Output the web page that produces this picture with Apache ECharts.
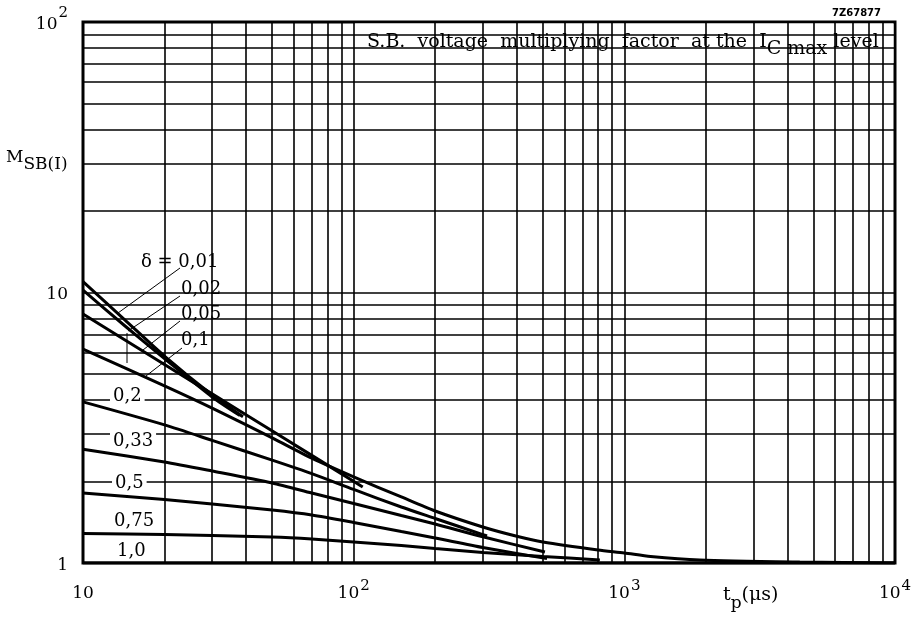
<!DOCTYPE html>
<html><head><meta charset="utf-8">
<script src="https://cdn.jsdelivr.net/npm/echarts@6/dist/echarts.min.js"></script>
<style>html,body{margin:0;padding:0;background:#fff}#c{width:918px;height:618px}</style>
</head><body><div id="c"></div>
<script>
// ---- data: [tp (µs), M_SB(I)] ----
const deltaLabels = ['0,01','0,02','0,05','0,1','0,2','0,33','0,5','0,75','1,0'];
const d001 = [[10,10.96],[14.3,7.91],[20,5.82],[30,4.18],[39,3.47]];
const d002 = [[10,10.2],[14.3,7.52],[20,5.70],[30,4.11],[38,3.51]];
const d005 = [[10,8.33],[20,5.42],[40,3.53],[70,2.50],[108,1.91]];
const d01  = [[10,6.18],[20,4.52],[30,3.74],[50,2.90],[70,2.44],[100,2.08],[150,1.754],[200,1.557],[300,1.359],[404,1.253],[500,1.196],[800,1.117],[1000,1.089],[1250,1.057],[1900,1.026],[4450,1.0085],[10000,1.0]];
const d02  = [[10,3.94],[20,3.24],[30,2.84],[50,2.40],[70,2.14],[100,1.87],[150,1.611],[200,1.461],[300,1.274],[311,1.258]];
const d033 = [[10,2.633],[20,2.363],[30,2.188],[50,1.976],[70,1.815],[100,1.660],[150,1.498],[200,1.394],[300,1.250],[509,1.098]];
const d05  = [[10,1.815],[20,1.717],[30,1.653],[50,1.570],[70,1.505],[100,1.412],[150,1.307],[200,1.237],[300,1.141],[518,1.038]];
const d075 = [[10,1.285],[20,1.274],[30,1.264],[50,1.248],[70,1.227],[100,1.196],[150,1.161],[200,1.131],[300,1.094],[500,1.057],[812,1.026]];
const d10  = [[10,1],[10000,1]];
const curves = [d001,d002,d005,d01,d02,d033,d05,d075,d10];
const xMajor = [100,1000];
const yMajor = [10];
const xMinor = [20,30,40,50,60,70,80,90,200,300,400,500,600,700,800,900,2000,3000,4000,5000,6000,7000,8000,9000];
const yMinor = [2,3,4,5,6,7,8,9,20,30,40,50,60,70,80,90];

const SERIF = '"DejaVu Serif", serif';
const chart = echarts.init(document.getElementById('c'), null, {renderer:'canvas'});
const gridLine = {color:'#000', width:1.6, type:'solid'};

const series = curves.map((d,i)=>({
  type:'line', name:deltaLabels[i], data:d, showSymbol:false, symbol:'none',
  smooth:0.25, z:4, silent:true,
  lineStyle:{color:'#000', width:3}
}));
// carrier series for the grid lines
series.push({
  type:'line', data:[], z:1, silent:true, symbol:'none',
  markLine:{silent:true, symbol:['none','none'], label:{show:false}, lineStyle:gridLine,
    emphasis:{disabled:true},
    data: xMajor.concat(xMinor).map(v=>({xAxis:v})).concat(yMajor.concat(yMinor).map(v=>({yAxis:v})))}
});

function supFmt(v){
  const e = Math.round(Math.log10(v));
  if (v===1) return '{b|1}';
  if (e===1) return '{b|10}';
  return '{b|10}{s|'+e+'}';
}

const txt = (x,y,text,rich,extra)=>Object.assign({type:'text', z:10, silent:true,
  style:Object.assign({x:x,y:y,text:text,rich:rich,font:'18px '+SERIF,fill:'#000',verticalAlign:'middle'},extra||{})});

const richSub = {
  a:{fontFamily:SERIF,fontSize:17,color:'#000'},
  b:{fontFamily:SERIF,fontSize:17,color:'#000',padding:[14,0,0,0]}
};
const richX = {
  a:{fontFamily:SERIF,fontSize:19,color:'#000'},
  b:{fontFamily:SERIF,fontSize:17,color:'#000',padding:[17,0,0,0]}
};
const lblBg = {backgroundColor:'#fff', padding:[1,3,1,3]};

const option = {
  animation:false,
  backgroundColor:'#fff',
  grid:{left:83,right:23,top:22,bottom:55,show:true,borderColor:'#000',borderWidth:3,backgroundColor:'transparent'},
  xAxis:{type:'log',logBase:10,min:10,max:10000,
    axisLine:{show:false},axisTick:{show:false},splitLine:{show:false},
    axisLabel:{margin:16,color:'#000',formatter:supFmt,
      rich:{b:{fontFamily:SERIF,fontSize:17,lineHeight:30,color:'#000'},
            s:{fontFamily:SERIF,fontSize:15,color:'#000',padding:[0,0,15,1]}}}},
  yAxis:{type:'log',logBase:10,min:1,max:100,
    axisLine:{show:false},axisTick:{show:false},splitLine:{show:false},
    axisLabel:{margin:15,color:'#000',formatter:supFmt,padding:[5,0,0,0],
      rich:{b:{fontFamily:SERIF,fontSize:17,color:'#000'},
            s:{fontFamily:SERIF,fontSize:15,color:'#000',padding:[0,0,22,1]}}}},
  series:series,
  graphic:[
    // title box
    {type:'rect',z:3,silent:true,shape:{x:354.5,y:23.5,width:539,height:39.5},style:{fill:'#fff'}},
    txt(367,42,'{a|S.B.  voltage  multiplying  factor  at the  I}{b|C max}{a| level}',
      {a:{fontFamily:SERIF,fontSize:19,color:'#000'},b:{fontFamily:SERIF,fontSize:19,color:'#000',padding:[14,0,0,0]}}),
    txt(881,13,'7Z67877',null,{font:'bold 10px "DejaVu Sans", sans-serif',align:'right'}),
    // axis titles
    txt(6,158,'{a|M}{b|SB(I)}',richSub),
    txt(723,595,'{a|t}{b|p}{a|(μs)}',richX),
    // white block behind the upper delta labels
    {type:'rect',z:3,silent:true,shape:{x:172,y:250,width:55,height:102},style:{fill:'#fff'}},
    // leader lines
    {type:'polyline',z:5,silent:true,shape:{points:[[180,268],[118,313]]},style:{stroke:'#000',lineWidth:1}},
    {type:'polyline',z:5,silent:true,shape:{points:[[180,296],[128,331]]},style:{stroke:'#000',lineWidth:1}},
    {type:'polyline',z:5,silent:true,shape:{points:[[127,333],[127,363]]},style:{stroke:'#000',lineWidth:1}},
    {type:'polyline',z:5,silent:true,shape:{points:[[180,321],[143,350]]},style:{stroke:'#000',lineWidth:1}},
    {type:'polyline',z:5,silent:true,shape:{points:[[182,348],[146,376]]},style:{stroke:'#000',lineWidth:1}},
    // delta labels
    txt(141,262,'δ = '+deltaLabels[0]),
    txt(181,289,deltaLabels[1]),
    txt(181,314,deltaLabels[2]),
    txt(181,340,deltaLabels[3]),
    txt(110,396,deltaLabels[4],null,lblBg),
    txt(110,441,deltaLabels[5],null,lblBg),
    txt(112,483,deltaLabels[6],null,lblBg),
    txt(114,521,deltaLabels[7]),
    txt(117,551,deltaLabels[8])
  ]
};
chart.setOption(option);
</script></body></html>
